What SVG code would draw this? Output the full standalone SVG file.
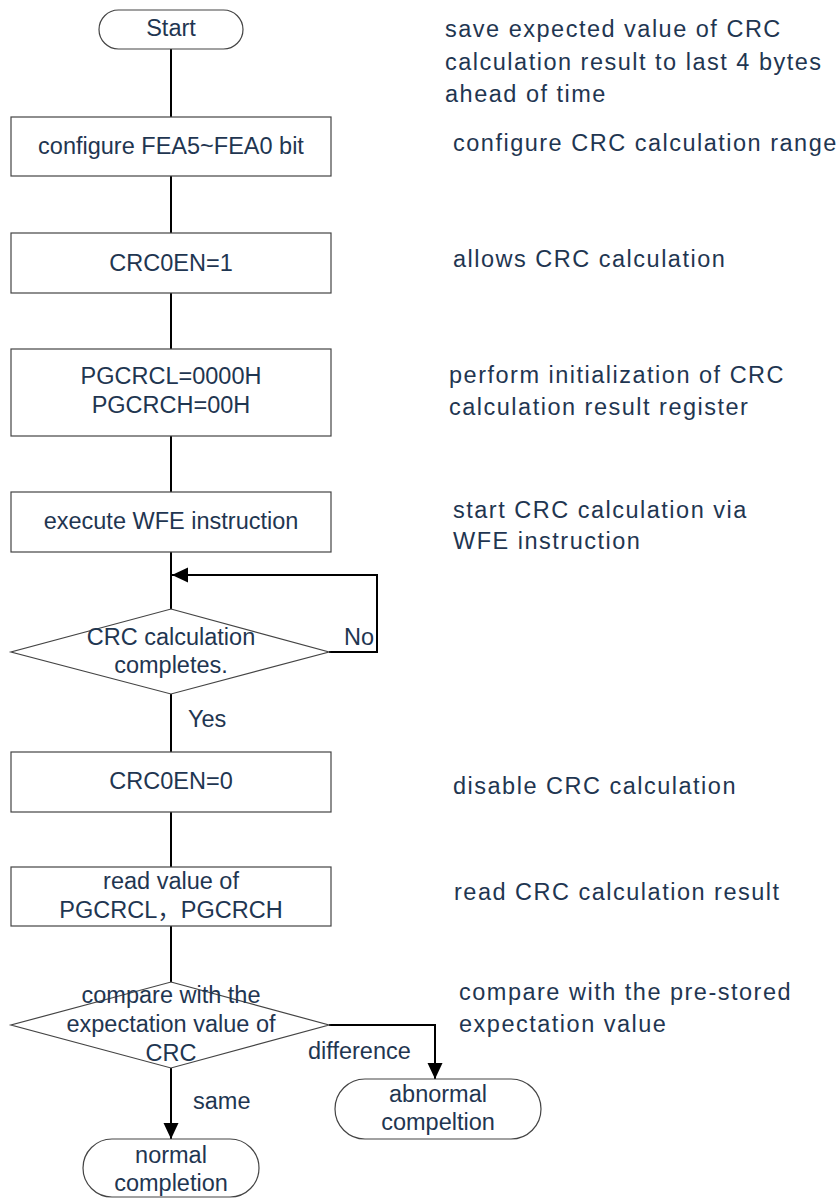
<svg xmlns="http://www.w3.org/2000/svg" width="840" height="1199" viewBox="0 0 840 1199">
<defs>
<style>
.box{fill:#ffffff;stroke:#444444;stroke-width:1.2}
.t{font-family:"Liberation Sans","Noto Sans CJK SC",Arial,sans-serif;font-size:23.5px;fill:#1f3651;text-anchor:middle}
.n{font-family:"Liberation Sans",Arial,sans-serif;font-size:23.5px;fill:#1f3651;letter-spacing:1.5px}
.lbl{font-family:"Liberation Sans",Arial,sans-serif;font-size:23.5px;fill:#1f3651}
.c{fill:none;stroke:#000000;stroke-width:2}
</style>
<marker id="ah" viewBox="0 0 16 16" markerWidth="16" markerHeight="16" refX="16" refY="8" orient="auto" markerUnits="userSpaceOnUse">
<path d="M0,0.5 L16,8 L0,15.5 Z" fill="#000000"/>
</marker>
</defs>
<rect width="840" height="1199" fill="#ffffff"/>

<g id="connectors">
<line class="c" x1="171" y1="49" x2="171" y2="117"/>
<line class="c" x1="171" y1="176" x2="171" y2="233"/>
<line class="c" x1="171" y1="293" x2="171" y2="349"/>
<line class="c" x1="171" y1="436" x2="171" y2="492"/>
<line class="c" x1="171" y1="552" x2="171" y2="609"/>
<polyline class="c" points="329,652 377,652 377,575 172,575" marker-end="url(#ah)"/>
<line class="c" x1="171" y1="694" x2="171" y2="752"/>
<line class="c" x1="171" y1="812" x2="171" y2="867"/>
<line class="c" x1="171" y1="926" x2="171" y2="982"/>
<line class="c" x1="171" y1="1068" x2="171" y2="1139" marker-end="url(#ah)"/>
<polyline class="c" points="329,1025 435,1025 435,1079" marker-end="url(#ah)"/>
<text class="lbl" x="344" y="645">No</text>
<text class="lbl" x="188" y="727">Yes</text>
<text class="lbl" x="308" y="1059">difference</text>
<text class="lbl" x="193" y="1109">same</text>
</g>

<g id="start">
<rect class="box" x="99" y="10" width="144" height="39" rx="19.5" ry="19.5"/>
<text class="t" x="171" y="36">Start</text>
</g>

<g id="configure">
<rect class="box" x="11" y="117" width="320" height="59"/>
<text class="t" x="171" y="154">configure FEA5~FEA0 bit</text>
</g>

<g id="crc0en1">
<rect class="box" x="11" y="233" width="320" height="60"/>
<text class="t" x="171" y="271">CRC0EN=1</text>
</g>

<g id="init">
<rect class="box" x="11" y="349" width="320" height="87"/>
<text class="t" x="171" y="384">PGCRCL=0000H</text>
<text class="t" x="171" y="413">PGCRCH=00H</text>
</g>

<g id="wfe">
<rect class="box" x="11" y="492" width="320" height="60"/>
<text class="t" x="171" y="529">execute WFE instruction</text>
</g>

<g id="complete">
<polygon class="box" points="171,609 329,652 171,694 11,652"/>
<text class="t" x="171" y="645">CRC calculation</text>
<text class="t" x="171" y="673">completes.</text>
</g>

<g id="crc0en0">
<rect class="box" x="11" y="752" width="320" height="60"/>
<text class="t" x="171" y="789">CRC0EN=0</text>
</g>

<g id="read">
<rect class="box" x="11" y="867" width="320" height="59"/>
<text class="t" x="171" y="889">read value of</text>
<text class="t" x="171" y="918">PGCRCL，PGCRCH</text>
</g>

<g id="compare">
<polygon class="box" points="171,982 329,1025 171,1068 11,1025"/>
<text class="t" x="171" y="1003">compare with the</text>
<text class="t" x="171" y="1032">expectation value of</text>
<text class="t" x="171" y="1061">CRC</text>
</g>

<g id="abnormal">
<rect class="box" x="335" y="1079" width="206" height="60" rx="30" ry="30"/>
<text class="t" x="438" y="1102">abnormal</text>
<text class="t" x="438" y="1130">compeltion</text>
</g>

<g id="normal">
<rect class="box" x="83" y="1139" width="176" height="58" rx="29" ry="29"/>
<text class="t" x="171" y="1163">normal</text>
<text class="t" x="171" y="1191">completion</text>
</g>

<g id="notes">
<text class="n" x="445" y="37">save expected value of CRC</text>
<text class="n" x="445" y="70">calculation result to last 4 bytes</text>
<text class="n" x="445" y="102">ahead of time</text>
<text class="n" x="453" y="151">configure CRC calculation range</text>
<text class="n" x="453" y="267">allows CRC calculation</text>
<text class="n" x="449" y="383">perform initialization of CRC</text>
<text class="n" x="449" y="415">calculation result register</text>
<text class="n" x="453" y="518">start CRC calculation via</text>
<text class="n" x="453" y="549">WFE instruction</text>
<text class="n" x="453" y="794">disable CRC calculation</text>
<text class="n" x="454" y="900">read CRC calculation result</text>
<text class="n" x="459" y="1000">compare with the pre-stored</text>
<text class="n" x="459" y="1032">expectation value</text>
</g>
</svg>
